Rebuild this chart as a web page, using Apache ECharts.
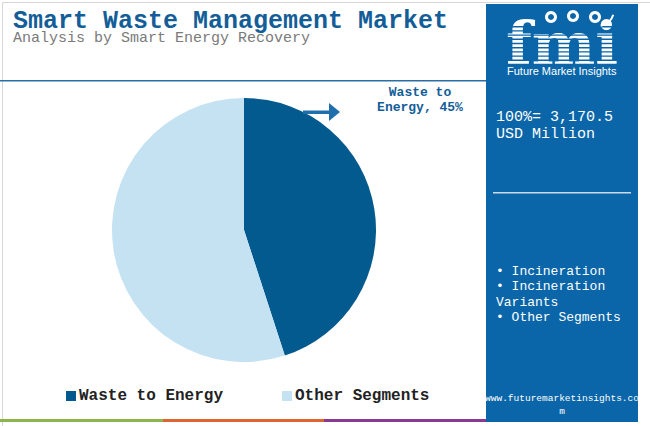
<!DOCTYPE html>
<html>
<head>
    <meta charset="utf-8">
    <title>Smart Waste Management Market</title>
    <script src="https://cdn.jsdelivr.net/npm/echarts@6/dist/echarts.min.js"></script>
    <style type="text/css">
    html, body { margin: 0; padding: 0; background: #fff; }
    #chart { width: 650px; height: 426px; }
    </style>
</head>
<body>
    <div id="chart"></div>
    <script>
        var categories = ['Waste to Energy', 'Other Segments'];
        var shares = [45, 55];
        var sliceLabels = ['Waste to\nEnergy, 45%', ''];
        var totalText = ['100%= 3,170.5', 'USD Million'];
        var bulletLines = ['\u2022 Incineration', '\u2022 Incineration', 'Variants', '\u2022 Other Segments'];

        var mono = 'Liberation Mono, Courier New, monospace';
        var panelBlue = '#0a66a8';

        var chart = echarts.init(document.getElementById('chart'), null, {renderer: 'svg'});

        var pieData = categories.map(function (c, i) {
            return {name: c, value: shares[i], label: {show: !!sliceLabels[i], formatter: sliceLabels[i]}};
        });

        // stripes across the logo letters
        var logoStripes = [];
        for (var s = 0; s < 10; s++) {
            logoStripes.push({
                type: 'rect', left: 500, top: 26 + s * 4.2,
                shape: {width: 125, height: 1.4},
                style: {fill: panelBlue}, z: 20
            });
        }

        var option = {
            backgroundColor: '#fff',
            animation: false,
            color: ['#035a8f', '#c5e2f3'],
            title: [{
                text: 'Smart Waste Management Market',
                left: 8,
                top: 6,
                textStyle: {fontFamily: mono, fontSize: 25, fontWeight: 'bold', color: '#135e98', lineHeight: 20}
            }, {
                text: 'Analysis by Smart Energy Recovery',
                left: 8,
                top: 27,
                textStyle: {fontFamily: mono, fontSize: 15, fontWeight: 'normal', color: '#7a7a7a', lineHeight: 12}
            }],
            legend: {
                data: categories,
                left: 61,
                top: 383,
                icon: 'rect',
                itemWidth: 10,
                itemHeight: 10,
                itemGap: 59,
                textStyle: {fontFamily: mono, fontSize: 16, fontWeight: 'bold', color: '#222', padding: [0, 0, 0, -2]}
            },
            graphic: [
                {type: 'rect', left: 0, top: 0, shape: {width: 649, height: 425},
                    style: {fill: 'none', stroke: '#d6d6d6', lineWidth: 1}, silent: true, z: -1},
                {type: 'rect', left: 0, top: 80, shape: {width: 486, height: 1.5},
                    style: {fill: '#2a6ea6'}},
                {type: 'rect', left: 0, top: 419, shape: {width: 163, height: 3}, style: {fill: '#8db54b'}},
                {type: 'rect', left: 163, top: 419, shape: {width: 161, height: 3}, style: {fill: '#df6431'}},
                {type: 'rect', left: 324, top: 419, shape: {width: 162, height: 3}, style: {fill: '#8b3a92'}},
                {type: 'rect', left: 486, top: 4, shape: {width: 152, height: 418}, style: {fill: panelBlue}, z: 1},
                // logo
                {type: 'text', left: 506, top: 14, z: 10,
                    style: {text: 'fmi', font: 'bold 60px DejaVu Serif', fill: '#fff', lineHeight: 48}},
                {type: 'circle', shape: {cx: 551, cy: 17, r: 6}, style: {fill: '#fff'}, z: 30},
                {type: 'circle', shape: {cx: 573, cy: 16, r: 6}, style: {fill: '#fff'}, z: 30},
                {type: 'circle', shape: {cx: 595, cy: 17, r: 6}, style: {fill: '#fff'}, z: 30},
                {type: 'circle', shape: {cx: 551, cy: 17, r: 3}, style: {fill: panelBlue}, z: 31},
                {type: 'circle', shape: {cx: 573, cy: 16, r: 3}, style: {fill: panelBlue}, z: 31},
                {type: 'circle', shape: {cx: 595, cy: 17, r: 3}, style: {fill: panelBlue}, z: 31},
                {type: 'arc', shape: {cx: 598, cy: 10, r: 16, startAngle: 0.3, endAngle: 1.4},
                    style: {stroke: '#fff', lineWidth: 2, fill: 'none'}, z: 30},
                {type: 'text', left: 507, top: 65, z: 10,
                    style: {text: 'Future Market Insights', font: '11px Liberation Sans Narrow, Liberation Sans', fill: '#fff'}},
                {type: 'text', left: 496, top: 109, z: 10,
                    style: {text: totalText.join('\n'), font: '15px ' + mono, fill: '#fff', lineHeight: 17}},
                {type: 'rect', left: 493, top: 192, shape: {width: 138, height: 1.5},
                    style: {fill: '#c9dced'}, z: 10},
                {type: 'text', left: 496, top: 264, z: 10,
                    style: {text: bulletLines.join('\n'), font: '13px ' + mono, fill: '#fff', lineHeight: 15.3}},
                {type: 'text', x: 562, y: 392, z: 10,
                    style: {text: 'www.futuremarketinsights.co\nm', font: '9.5px ' + mono, fill: '#fff',
                        align: 'center', lineHeight: 13}},
                // arrow pointing at the label
                {type: 'rect', left: 303, top: 110.5, shape: {width: 28, height: 3.5}, style: {fill: '#1f6fad'}, z: 10},
                {type: 'polygon', shape: {points: [[329, 103], [340, 112], [329, 121]]},
                    style: {fill: '#1f6fad'}, z: 10}
            ].concat(logoStripes),
            series: [{
                type: 'pie',
                center: [244, 230],
                radius: 132,
                startAngle: 90,
                clockwise: true,
                silent: true,
                data: pieData,
                label: {
                    position: 'outside',
                    fontFamily: mono,
                    fontSize: 13,
                    fontWeight: 'bold',
                    color: '#135e98',
                    lineHeight: 15,
                    align: 'center'
                },
                labelLine: {show: false},
                labelLayout: function (params) {
                    if (params.dataIndex === 0) {
                        return {x: 420, y: 100, align: 'center', verticalAlign: 'middle'};
                    }
                },
                emphasis: {disabled: true}
            }]
        };

        chart.setOption(option);
    </script>
</body>
</html>
